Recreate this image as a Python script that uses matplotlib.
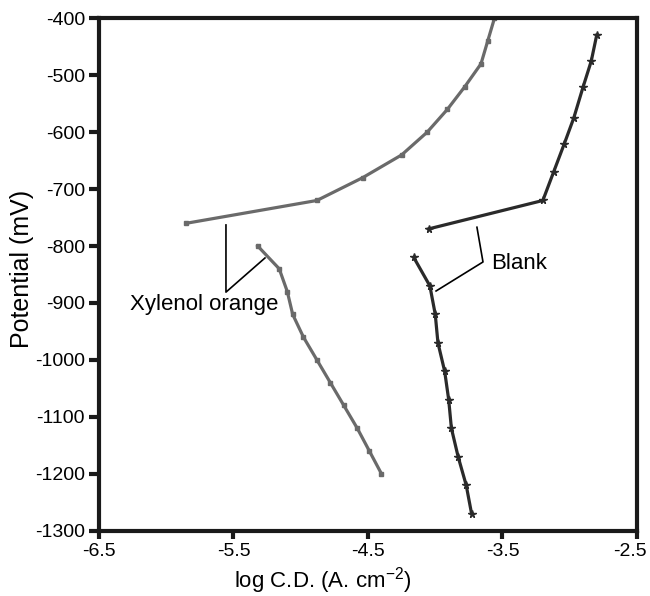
import matplotlib
matplotlib.use("Agg")
import matplotlib.pyplot as plt
from matplotlib.transforms import ScaledTranslation

plt.rcParams['font.family'] = ['Liberation Sans', 'DejaVu Sans']

# Xylenol orange - anodic branch
xo_anodic_x = [-5.85, -4.88, -4.54, -4.25, -4.06, -3.91, -3.78, -3.66, -3.61, -3.56]
xo_anodic_y = [-760, -720, -680, -640, -600, -560, -520, -480, -440, -400]
# Xylenol orange - cathodic branch
xo_cath_x = [-5.32, -5.16, -5.10, -5.06, -4.98, -4.88, -4.78, -4.68, -4.58, -4.49, -4.40]
xo_cath_y = [-800, -840, -880, -920, -960, -1000, -1040, -1080, -1120, -1160, -1200]
# Blank - anodic branch
bl_anodic_x = [-4.05, -3.20, -3.12, -3.04, -2.97, -2.90, -2.84, -2.80]
bl_anodic_y = [-770, -720, -670, -620, -575, -520, -475, -430]
# Blank - cathodic branch
bl_cath_x = [-4.16, -4.04, -4.00, -3.98, -3.93, -3.90, -3.88, -3.83, -3.77, -3.73]
bl_cath_y = [-820, -870, -920, -970, -1020, -1070, -1120, -1170, -1220, -1270]

x_ticks = [-6.5, -5.5, -4.5, -3.5, -2.5]
y_ticks = [-400, -500, -600, -700, -800, -900, -1000, -1100, -1200, -1300]

label_xo = "Xylenol orange"
label_blank = "Blank"

fig = plt.figure(figsize=(6.5, 5.96), dpi=100)
ax = fig.add_axes([0.1523, 0.1096, 0.98 - 0.1523, 0.9693 - 0.1096])

gray = '#6a6a6a'
dark = '#2a2a2a'
ax.plot(xo_anodic_x, xo_anodic_y, color=gray, lw=2.3, marker='s', ms=3.5, mec=gray, mfc=gray)
ax.plot(xo_cath_x, xo_cath_y, color=gray, lw=2.3, marker='s', ms=3.5, mec=gray, mfc=gray)
ax.plot(bl_anodic_x, bl_anodic_y, color=dark, lw=2.3, marker='*', ms=5.5, mec=dark, mfc=dark)
ax.plot(bl_cath_x, bl_cath_y, color=dark, lw=2.3, marker='*', ms=5.5, mec=dark, mfc=dark)

ax.set_xlim(-6.5, -2.5)
ax.set_ylim(-1300, -400)
ax.set_xticks(x_ticks)
ax.set_xticklabels([f"{v:.1f}" for v in x_ticks])
ax.set_yticks(y_ticks)
ax.set_yticklabels([str(v) for v in y_ticks])

for s in ax.spines.values():
    s.set_linewidth(3)
    s.set_color('#1a1a1a')
ax.tick_params(axis='both', direction='out', width=3, color='#1a1a1a', labelsize=14)
ax.tick_params(axis='y', length=7, pad=3)
ax.tick_params(axis='x', length=6, pad=3)

# keep the last x tick label inside the figure, as in the reference
last = ax.get_xticklabels()[-1]
last.set_transform(last.get_transform() + ScaledTranslation(-7 / 100, 0, fig.dpi_scale_trans))

# annotation brackets
ax.plot([-5.556, -5.556, -5.266], [-763, -881, -821], color='black', lw=1.2)
ax.text(-5.72, -912, label_xo, fontsize=16, ha='center', va='baseline')
ax.plot([-3.69, -3.645, -3.994], [-767, -828, -879], color='black', lw=1.2)
ax.text(-3.585, -840, label_blank, fontsize=16, ha='left', va='baseline')

fig.text(22 / 650, 1 - 269 / 596, "Potential (mV)", rotation=90, fontsize=18,
         ha='center', va='center')
fig.text(323 / 650, 1 - 587 / 596, r"log C.D. (A. cm$^{\mathregular{-2}}$)", fontsize=16,
         ha='center', va='baseline')

fig.savefig("out.png", dpi=100)
